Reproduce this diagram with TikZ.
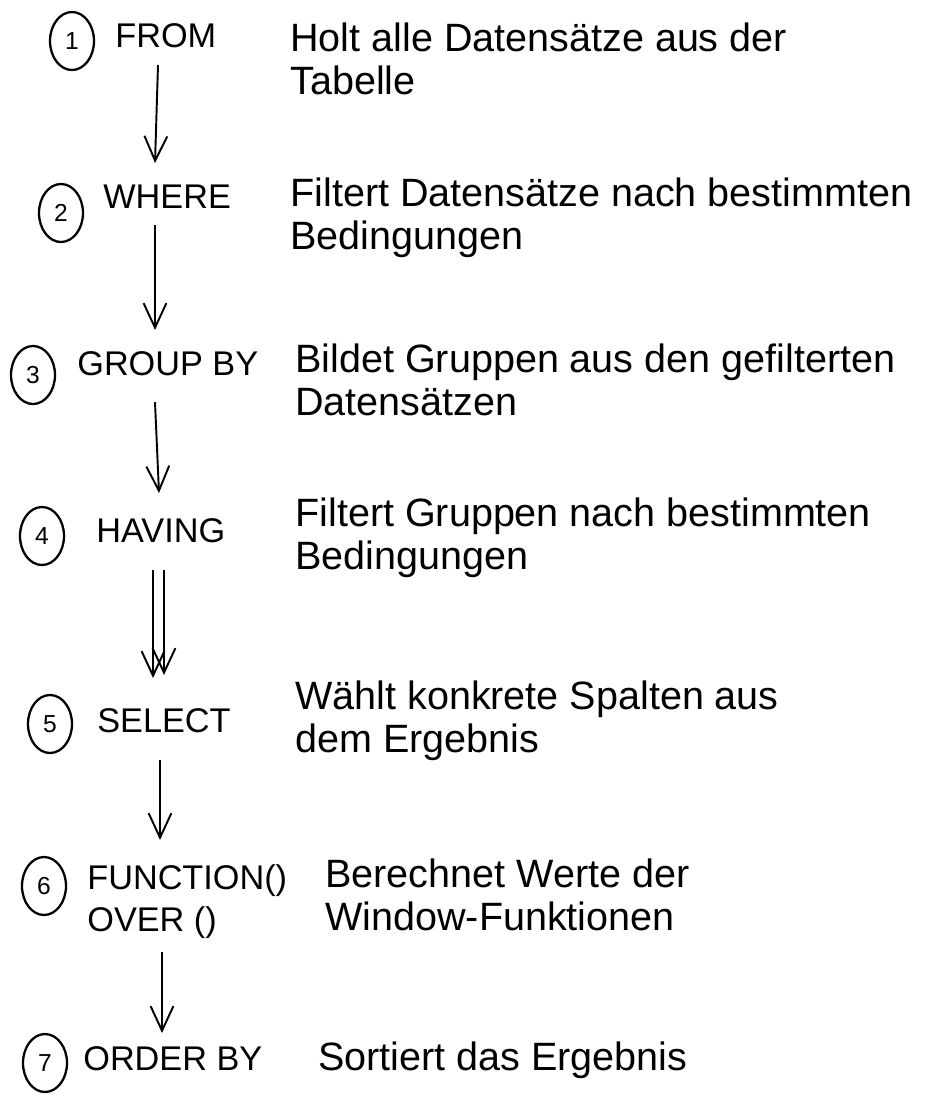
\documentclass[tikz,border=0pt]{standalone}
\usepackage{fontspec}
\setmainfont{Liberation Sans}
\usetikzlibrary{arrows.meta,shapes.geometric}
\begin{document}
\begin{tikzpicture}[x=0.02cm,y=-0.02cm,
  numc/.style={draw, ellipse, line width=1.3pt, minimum width=0.88cm, minimum height=1.16cm, inner sep=0pt, font=\fontsize{14}{16}\selectfont},
  kw/.style={anchor=base west, inner sep=0pt, font=\fontsize{19.5}{23.5}\selectfont},
  desc/.style={anchor=base west, inner sep=0pt, align=left, font=\fontsize{22.5}{24.4}\selectfont},
  flow/.style={line width=1.1pt, -{Straight Barb[length=14pt,width=13pt,line width=1.1pt]}}]
\useasboundingbox (0,0) rectangle (944,1110);
% step 1
\node[numc] (c1) at (72,41) {1};
\node[kw] (k1) at (115,47) {FROM};
\node[desc] (d1) at (290,94) {Holt alle Datensätze aus der\\Tabelle};
% step 2
\node[numc] (c2) at (61,213) {2};
\node[kw] (k2) at (103,208) {WHERE};
\node[desc] (d2) at (290,249) {Filtert Datensätze nach bestimmten\\Bedingungen};
% step 3
\node[numc] (c3) at (33,375) {3};
\node[kw] (k3) at (77,375) {GROUP BY};
\node[desc] (d3) at (295,415) {Bildet Gruppen aus den gefilterten\\Datensätzen};
% step 4
\node[numc] (c4) at (42,536) {4};
\node[kw] (k4) at (96,542) {HAVING};
\node[desc] (d4) at (295,569) {Filtert Gruppen nach bestimmten\\Bedingungen};
% step 5
\node[numc] (c5) at (50,724) {5};
\node[kw] (k5) at (97,732) {SELECT};
\node[desc] (d5) at (295,752) {Wählt konkrete Spalten aus\\dem Ergebnis};
% step 6
\node[numc] (c6) at (44,886) {6};
\node[kw, align=left] (k6) at (87,931) {FUNCTION()\\OVER ()};
\node[desc] (d6) at (325,930) {Berechnet Werte der\\Window-Funktionen};
% step 7
\node[numc] (c7) at (45,1063) {7};
\node[kw] (k7) at (83,1070) {ORDER BY};
\node[desc] (d7) at (318,1070) {Sortiert das Ergebnis};
% arrows
\coordinate (a1s) at (158,65);  \coordinate (a1e) at (155,163);
\coordinate (a2s) at (155,225); \coordinate (a2e) at (155,330);
\coordinate (a3s) at (155,402); \coordinate (a3e) at (159,493);
\coordinate (a4s) at (153,570); \coordinate (a4e) at (153,678);
\coordinate (b4s) at (164,570); \coordinate (b4e) at (164,675);
\coordinate (a5s) at (160,760); \coordinate (a5e) at (160,840);
\coordinate (a6s) at (162,952); \coordinate (a6e) at (162,1033);
\draw[flow] (a1s) -- (a1e);
\draw[flow] (a2s) -- (a2e);
\draw[flow] (a3s) -- (a3e);
\draw[flow] (a4s) -- (a4e);
\draw[flow] (b4s) -- (b4e);
\draw[flow] (a5s) -- (a5e);
\draw[flow] (a6s) -- (a6e);
\end{tikzpicture}
\end{document}
